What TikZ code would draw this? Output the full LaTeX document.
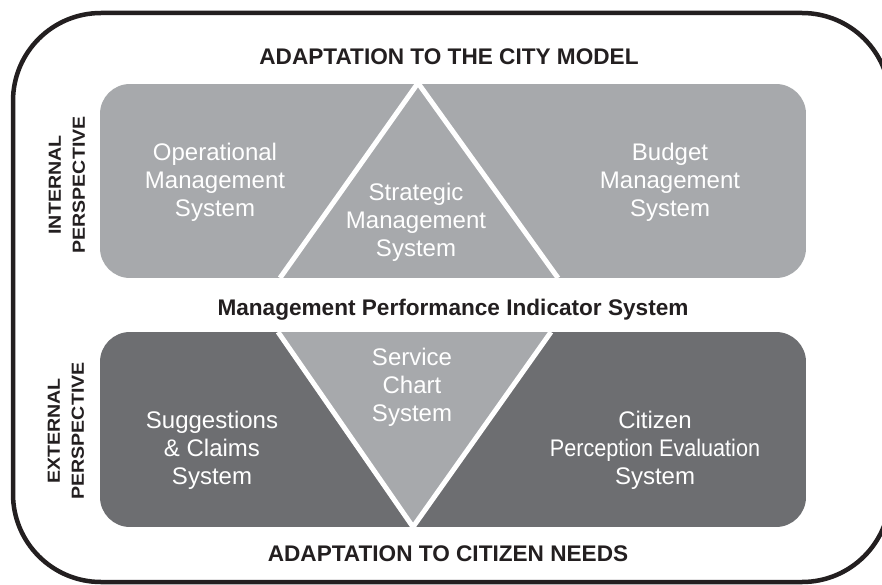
\documentclass[tikz,border=0pt]{standalone}
\usepackage{fontspec}
\setmainfont{Liberation Sans}
\definecolor{lightg}{HTML}{A7A9AC}
\definecolor{darkg}{HTML}{6D6E71}
\definecolor{ink}{HTML}{231F20}
\begin{document}
\begin{tikzpicture}[x=1pt,y=-1pt,
  heading/.style={text=ink,font=\bfseries\fontsize{22.6}{26}\selectfont,inner sep=0pt,anchor=base},
  boxtext/.style={text=white,font=\fontsize{24}{28}\selectfont,align=center,inner sep=0pt},
  sidelabel/.style={text=ink,font=\bfseries\fontsize{17.5}{24}\selectfont,align=center,inner sep=0pt,rotate=90},
  whiteline/.style={white,line width=5pt}]
\clip (0,0) rectangle (882,585);
\fill[white] (0,0) rectangle (882,585);
% outer frame
\draw[ink,line width=4.5pt,rounded corners=88pt] (13,13) rectangle (890,582);
% upper box
\begin{scope}
\clip[rounded corners=30pt] (100,84) rectangle (806,278);
\fill[lightg] (100,84) rectangle (806,278);
\draw[whiteline] (418,83) -- (280,278);
\draw[whiteline] (418,83) -- (558,278);
\end{scope}
% lower box
\begin{scope}
\clip[rounded corners=30pt] (100,332) rectangle (806,527);
\fill[darkg] (100,332) rectangle (806,527);
\fill[lightg] (278,332) -- (551,332) -- (413,527) -- cycle;
\draw[whiteline] (278,332) -- (413,527) -- (551,332);
\end{scope}
% headings
\node[heading] (top) at (449,65) {ADAPTATION TO THE CITY MODEL};
\node[heading] (mid) at (453,315) {Management Performance Indicator System};
\node[heading] (bot) at (448,561) {ADAPTATION TO CITIZEN NEEDS};
% side labels
\node[sidelabel] (int) at (67,185) {\scalebox{1.12}[1]{INTERNAL}\\\scalebox{1.12}[1]{PERSPECTIVE}};
\node[sidelabel] (ext) at (66,431) {\scalebox{1.12}[1]{EXTERNAL}\\\scalebox{1.12}[1]{PERSPECTIVE}};
% box texts
\node[boxtext] (ops) at (215,182) {Operational\\Management\\System};
\node[boxtext] (bud) at (670,182) {Budget\\Management\\System};
\node[boxtext] (str) at (416,222) {Strategic\\Management\\System};
\node[boxtext] (svc) at (412,387) {Service\\Chart\\System};
\node[boxtext] (sug) at (212,450) {Suggestions\\\& Claims\\System};
\node[boxtext] (cit) at (655,450) {Citizen\\\scalebox{0.9}[1]{Perception Evaluation}\\System};
\end{tikzpicture}
\end{document}
